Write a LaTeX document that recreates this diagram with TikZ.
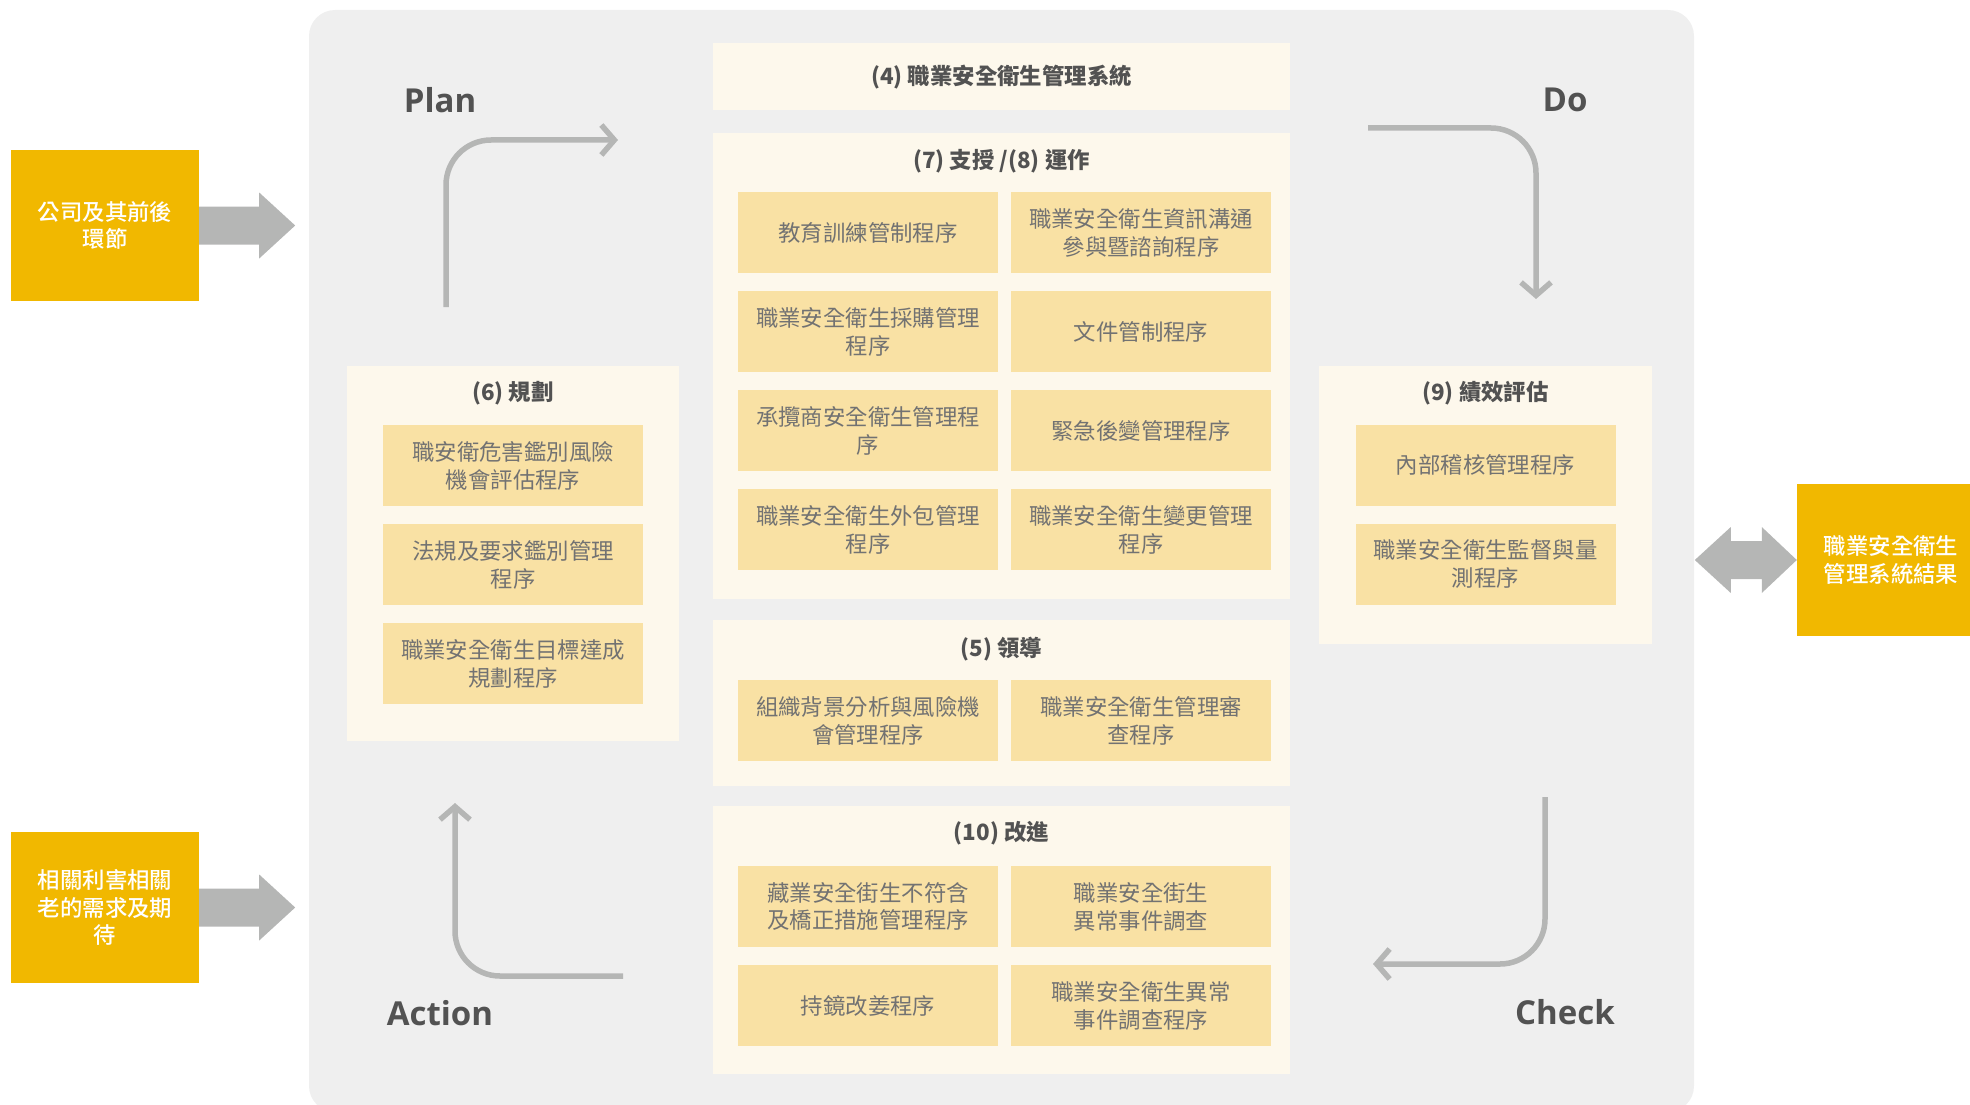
\documentclass[tikz,border=0pt]{standalone}
\usepackage{fontspec}
\setmainfont{Noto Sans CJK TC}
\newfontfamily\phasefont{Open Sans}
\IfFontExistsTF{Noto Sans CJK TC Medium}
  {\newfontfamily\medfont{Noto Sans CJK TC Medium}}
  {\newfontfamily\medfont{Noto Sans CJK TC}}
\IfFontExistsTF{Open Sans SemiBold}
  {\newfontfamily\phasebold{Open Sans SemiBold}}
  {\newcommand\phasebold{\phasefont\bfseries}}
\usetikzlibrary{arrows.meta}
\definecolor{bggray}{HTML}{EFEFEF}
\definecolor{cream}{HTML}{FDF8EC}
\definecolor{procfill}{HTML}{F9E1A4}
\definecolor{gold}{HTML}{F1B800}
\definecolor{arrowgray}{HTML}{B5B6B5}
\definecolor{titletext}{HTML}{525252}
\definecolor{proctext}{HTML}{727272}
\tikzset{
  panel/.style={fill=cream, anchor=north west, inner sep=0pt},
  paneltitle/.style={text=titletext, font=\fontsize{22.4}{28}\selectfont\bfseries},
  proc/.style={fill=procfill, text=proctext, align=center, inner sep=0pt,
    minimum width=260pt, minimum height=81pt, font=\fontsize{22.4}{28}\selectfont},
  inbox/.style={fill=gold, text=white, align=center, inner sep=0pt,
    minimum width=188pt, minimum height=151pt, font=\fontsize{22.4}{27.5}\selectfont\medfont},
  phase/.style={text=titletext, font=\fontsize{33}{36}\selectfont\phasebold},
  cyclearrow/.style={draw=arrowgray, line width=5.5pt, rounded corners=45pt,
    -{Straight Barb[length=13pt, width=30pt]}},
  fatarrow/.style={fill=arrowgray}
}
\begin{document}
\begin{tikzpicture}[x=1pt, y=-1pt]
  \useasboundingbox (0,0) rectangle (1970,1105);
  % Drawing the gray frame
  \fill [bggray, rounded corners=26pt] (309,10) rectangle (1694,1112);
  % Drawing the panels
  \node [panel, minimum width=577pt, minimum height=67pt] (p4) at (713,43) {};
  \node [panel, minimum width=577pt, minimum height=466pt] (p78) at (713,133) {};
  \node [panel, minimum width=577pt, minimum height=166pt] (p5) at (713,620) {};
  \node [panel, minimum width=577pt, minimum height=268pt] (p10) at (713,806) {};
  \node [panel, minimum width=332pt, minimum height=375pt] (p6) at (347,366) {};
  \node [panel, minimum width=333pt, minimum height=278pt] (p9) at (1319,366) {};
  % Drawing the panel titles
  \node [paneltitle] (t4) at (1001.5,77) {(4) 職業安全衛生管理系統};
  \node [paneltitle] (t78) at (1001.5,161) {(7) 支授 /(8) 運作};
  \node [paneltitle] (t5) at (1001.5,649) {(5) 領導};
  \node [paneltitle] (t10) at (1001.5,833) {(10) 改進};
  \node [paneltitle] (t6) at (513,393) {(6) 規劃};
  \node [paneltitle] (t9) at (1485.5,393) {(9) 績效評估};
  % Drawing the procedures of (7)/(8)
  \node [proc] (s1) at (868,232.5) {教育訓練管制程序};
  \node [proc] (s2) at (1141,232.5) {職業安全衛生資訊溝通\\參與暨諮詢程序};
  \node [proc] (s3) at (868,331.5) {職業安全衛生採購管理\\程序};
  \node [proc] (s4) at (1141,331.5) {文件管制程序};
  \node [proc] (s5) at (868,430.5) {承攬商安全衛生管理程\\序};
  \node [proc] (s6) at (1141,430.5) {緊急後變管理程序};
  \node [proc] (s7) at (868,529.5) {職業安全衛生外包管理\\程序};
  \node [proc] (s8) at (1141,529.5) {職業安全衛生變更管理\\程序};
  % Drawing the procedures of (5)
  \node [proc] (l1) at (868,720.5) {組織背景分析與風險機\\會管理程序};
  \node [proc] (l2) at (1141,720.5) {職業安全衛生管理審\\查程序};
  % Drawing the procedures of (10)
  \node [proc] (i1) at (868,906.5) {藏業安全街生不符含\\及橋正措施管理程序};
  \node [proc] (i2) at (1141,906.5) {職業安全街生\\異常事件調查};
  \node [proc] (i3) at (868,1005.5) {持鏡改姜程序};
  \node [proc] (i4) at (1141,1005.5) {職業安全衛生異常\\事件調查程序};
  % Drawing the procedures of (6)
  \node [proc] (r1) at (513,465.5) {職安衛危害鑑別風險\\機會評估程序};
  \node [proc] (r2) at (513,564.5) {法規及要求鑑別管理\\程序};
  \node [proc] (r3) at (513,663.5) {職業安全衛生目標達成\\規劃程序};
  % Drawing the procedures of (9)
  \node [proc] (e1) at (1485.5,465) {內部稽核管理程序};
  \node [proc] (e2) at (1485.5,564) {職業安全衛生監督與量\\測程序};
  % Drawing the PDCA labels and arrows
  \node [phase] (plan) at (440,100) {Plan};
  \node [phase] (do) at (1565,100) {Do};
  \node [phase] (check) at (1565,1012) {Check};
  \node [phase] (action) at (440,1013) {Action};
  \coordinate (plan-s) at (446,307);
  \coordinate (plan-e) at (618,140);
  \coordinate (do-s) at (1368,128);
  \coordinate (do-e) at (1536,299);
  \coordinate (check-s) at (1545,797);
  \coordinate (check-e) at (1373,964);
  \coordinate (action-s) at (623,976);
  \coordinate (action-e) at (455,803);
  \draw [cyclearrow] (plan-s) |- (plan-e);
  \draw [cyclearrow] (do-s) -| (do-e);
  \draw [cyclearrow] (check-s) |- (check-e);
  \draw [cyclearrow] (action-s) -| (action-e);
  % Drawing the inputs and the result
  \node [inbox, minimum height=150pt] (in1) at (105,225.5) {公司及其前後\\環節};
  \node [inbox] (in2) at (105,907.5) {相關利害相關\\老的需求及期\\待};
  \node [inbox, minimum height=152pt] (out) at (1891,560) {職業安全衛生\\管理系統結果};
  \fill [fatarrow] (in1.east) ++(0,-19) -- ++(60,0) -- ++(0,-14) -- ++(36,33)
    -- ++(-36,33) -- ++(0,-14) -- ++(-60,0) -- cycle;
  \fill [fatarrow] (in2.east) ++(0,-19) -- ++(60,0) -- ++(0,-14) -- ++(36,33)
    -- ++(-36,33) -- ++(0,-14) -- ++(-60,0) -- cycle;
  \fill [fatarrow] (out.west) -- ++(-35,-33) -- ++(0,14) -- ++(-31,0) -- ++(0,-14)
    -- ++(-36,33) -- ++(36,33) -- ++(0,-14) -- ++(31,0) -- ++(0,14) -- cycle;
\end{tikzpicture}
\end{document}
